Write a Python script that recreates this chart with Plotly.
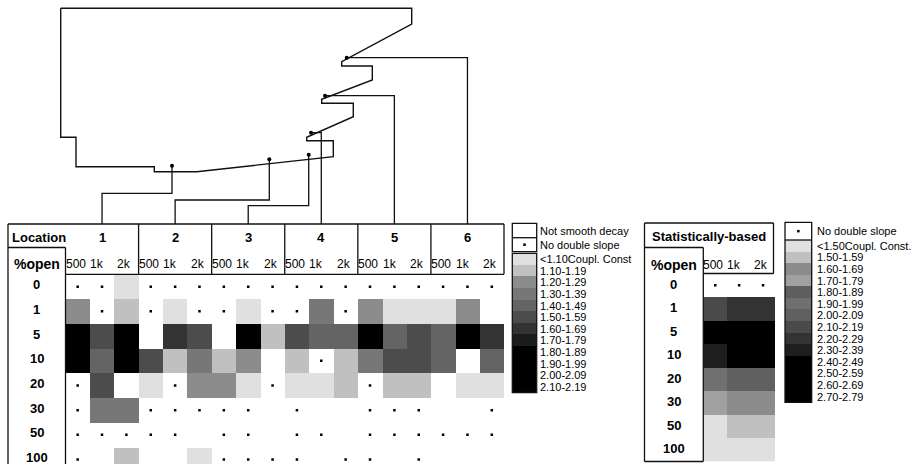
import plotly.graph_objects as go

W, H = 918, 464
FONT = "Liberation Sans, Arial, sans-serif"

# ---------------------------------------------------------------------------
# Data
# ---------------------------------------------------------------------------
NS = "not smooth decay"
ND = "no double slope"

open_pct = ["0", "1", "5", "10", "20", "30", "50", "100"]
locations = ["1", "2", "3", "4", "5", "6"]
records = ["500", "1k", "2k"]

main_classes = ["<1.10", "1.10-1.19", "1.20-1.29", "1.30-1.39", "1.40-1.49",
                "1.50-1.59", "1.60-1.69", "1.70-1.79", "1.80-1.89",
                "1.90-1.99", "2.00-2.09", "2.10-2.19"]
main_greys = ["#e0e0e0", "#c0c0c0", "#8c8c8c", "#777777", "#646464",
              "#4c4c4c", "#333333", "#1c1c1c", "#000000", "#000000",
              "#000000", "#000000"]

stat_classes = ["<1.50", "1.50-1.59", "1.60-1.69", "1.70-1.79", "1.80-1.89",
                "1.90-1.99", "2.00-2.09", "2.10-2.19", "2.20-2.29",
                "2.30-2.39", "2.40-2.49", "2.50-2.59", "2.60-2.69",
                "2.70-2.79"]
stat_greys = ["#e0e0e0", "#c0c0c0", "#8c8c8c", "#a0a0a0", "#5e5e5e",
              "#707070", "#606060", "#4a4a4a", "#333333", "#1e1e1e",
              "#000000", "#000000", "#000000", "#000000"]

# slope-ratio class per %open row, 6 locations x (500, 1k, 2k)
loc_open_0 = [ND, ND, "<1.10", ND, ND, ND, ND, ND, ND, ND, ND, ND, ND, ND, ND, ND, ND, ND]
loc_open_1 = ["1.20", ND, "1.10", ND, "<1.10", ND, ND, "<1.10", ND,
              ND, "1.30", ND, "1.20", "<1.10", "<1.10", "<1.10", "1.20", NS]
loc_open_5 = ["1.80", "1.50", "1.80", NS, "1.60", "1.50", NS, "1.80", "1.10",
              "1.50", "1.40", "1.40", "1.80", "1.40", "1.50", "1.40", "1.80", "1.60"]
loc_open_10 = ["1.80", "1.40", "1.80", "1.50", "1.10", "1.30", "1.10", "1.20", NS,
               "1.10", ND, "1.10", "1.30", "1.50", "1.50", "1.40", NS, "1.40"]
loc_open_20 = [ND, "1.50", NS, "<1.10", ND, "1.20", "1.20", "<1.10", ND,
               "<1.10", "<1.10", "1.10", ND, "1.10", "1.10", NS, "<1.10", "<1.10"]
loc_open_30 = [ND, "1.30", "1.30", ND, ND, ND, ND, ND, NS,
               ND, NS, NS, ND, ND, ND, NS, NS, ND]
loc_open_50 = [ND, ND, ND, ND, ND, NS, ND, ND, NS,
               ND, ND, NS, ND, ND, ND, ND, ND, ND]
loc_open_100 = [ND, NS, "1.10", NS, NS, "<1.10", ND, ND, ND,
                ND, NS, ND, ND, NS, ND, NS, NS, NS]
location_cells = [loc_open_0, loc_open_1, loc_open_5, loc_open_10,
                  loc_open_20, loc_open_30, loc_open_50, loc_open_100]

stat_open_0 = [ND, ND, ND]
stat_open_1 = ["2.10", "2.20", "2.20"]
stat_open_5 = ["2.40", "2.40", "2.40"]
stat_open_10 = ["2.30", "2.40", "2.40"]
stat_open_20 = ["1.90", "2.00", "2.00"]
stat_open_30 = ["1.70", "1.60", "1.60"]
stat_open_50 = ["<1.50", "1.50", "1.50"]
stat_open_100 = ["<1.50", "<1.50", "<1.50"]
stat_cells = [stat_open_0, stat_open_1, stat_open_5, stat_open_10,
              stat_open_20, stat_open_30, stat_open_50, stat_open_100]

# room plan outline and microphone positions (drawing units = pixels)
plan_x = [60.7, 411.7, 411.7, 341.7, 341.7, 372.3, 372.3, 321.7, 321.7, 353.3,
          353.3, 306.7, 306.7, 333.3, 333.3, 196.7, 154.3, 154.3, 76, 76,
          60.7, 60.7]
plan_y = [8.3, 8.3, 24, 61.7, 66, 66, 80, 99.3, 103.3, 103.3,
          116.7, 137.3, 140.7, 140.7, 156.7, 171.7, 171.7, 166.7, 166.7, 137.3,
          137.3, 8.3]
sensor_x = [172, 269.3, 308.7, 311, 325, 346.7]
sensor_y = [165.7, 159.3, 154.7, 132.7, 95.7, 57.7]
leader_elbow_y = [193.3, 200, 205.7, None, None, None]

# ---------------------------------------------------------------------------
# Layout geometry (pixels)
# ---------------------------------------------------------------------------
T_TOP, T_SUB, T_HEAD = 224, 247.5, 274.3
T_LEFT, T_COL0, T_RIGHT = 8, 65.5, 504
ROW_H = 24.7
S_LEFT, S_COL0, S_RIGHT, S_CELL_R = 644.5, 703.3, 773.5, 775
S_TOP, S_SUB, S_HEAD, S_BOT = 223, 247.5, 273.5, 461.5
ML_L, ML_R, ML_TOP, ML_MID, ML_BOX, ML_SCALE, BAND = 512.3, 536.7, 223.3, 237.7, 251.7, 253.3, 11.6
SL_L, SL_R, SL_TOP, SL_SCALE = 785, 811.7, 222.3, 240
# sub-header labels sit a little left of their cell centres
REC_SHIFT = [-0.08, -0.2, -0.08]


def xp(px):
    return px / W


def yp(py):
    return 1 - py / H


def discrete_scale(colors):
    n = len(colors)
    out = []
    for i, c in enumerate(colors):
        out.append([i / n, c])
        out.append([(i + 1) / n, c])
    return out


def class_index(classes, key):
    keys = [c.split("-")[0] for c in classes]
    return keys.index(key)


def encode(rows, classes):
    z, dx, dy = [], [], []
    for r, row in enumerate(rows):
        zr = []
        for c, v in enumerate(row):
            if v in (NS, ND):
                zr.append(None)
                if v == ND:
                    dx.append(c)
                    dy.append(r)
            else:
                zr.append(class_index(classes, v))
        z.append(zr)
    return z, dx, dy


fig = go.Figure()
shapes, annots = [], []
LINE = dict(color="#111111", width=1.3)


def seg(x0, y0, x1, y1, xref="x", yref="y", line=LINE):
    shapes.append(dict(type="line", xref=xref, yref=yref, x0=x0, y0=y0,
                       x1=x1, y1=y1, line=line, layer="above"))


def rect(x0, y0, x1, y1):
    shapes.append(dict(type="rect", xref="x", yref="y", x0=x0, y0=y0,
                       x1=x1, y1=y1, line=LINE, layer="above"))


def text(t, x, y, size, xref="x", yref="y", bold=False, xanchor="center", yshift=0):
    annots.append(dict(text=f"<b>{t}</b>" if bold else t, x=x, y=y, xref=xref,
                       yref=yref, showarrow=False, xanchor=xanchor,
                       yanchor="middle", yshift=yshift,
                       font=dict(family=FONT, size=size, color="black")))


DOT = dict(color="black", size=2.5, symbol="square")

# ---------------------------------------------------------------------------
# Room plan with leader lines to the table
# ---------------------------------------------------------------------------
fig.add_trace(go.Scatter(x=plan_x, y=plan_y, mode="lines", xaxis="x", yaxis="y",
                         line=dict(color="#111111", width=1.4), hoverinfo="skip"))
n_cols = len(locations) * len(records)
cell_w = (T_RIGHT - T_COL0) / n_cols
loc_center = [T_COL0 + (3 * g + 1.5) * cell_w for g in range(len(locations))]
for sx, sy, ey, lx in zip(sensor_x, sensor_y, leader_elbow_y, loc_center):
    if ey is None:
        xs, ys = [sx, lx, lx], [sy, sy, T_TOP]
    else:
        xs, ys = [sx, sx, lx, lx], [sy, ey, ey, T_TOP]
    fig.add_trace(go.Scatter(x=xs, y=ys, mode="lines", xaxis="x", yaxis="y",
                             line=dict(color="#111111", width=1.3),
                             hoverinfo="skip"))
fig.add_trace(go.Scatter(x=sensor_x, y=sensor_y, mode="markers", xaxis="x",
                         yaxis="y", marker=dict(color="black", size=4),
                         hoverinfo="skip"))

# ---------------------------------------------------------------------------
# Location table
# ---------------------------------------------------------------------------
z_main, dot_x, dot_y = encode(location_cells, main_classes)
fig.add_trace(go.Heatmap(z=z_main, xaxis="x2", yaxis="y2", showscale=False,
                         colorscale=discrete_scale(main_greys), zmin=-0.5,
                         zmax=len(main_classes) - 0.5, hoverinfo="skip"))
fig.add_trace(go.Scatter(x=dot_x, y=dot_y, mode="markers", xaxis="x2", yaxis="y2",
                         marker=DOT, hoverinfo="skip"))

seg(T_LEFT, T_TOP, T_RIGHT, T_TOP)
seg(T_LEFT, T_TOP, T_LEFT, H + 5)
seg(T_LEFT, T_SUB, T_COL0, T_SUB)
seg(T_COL0, T_SUB, T_COL0, H + 5)
seg(T_COL0, T_HEAD, T_RIGHT, T_HEAD)
seg(T_RIGHT, T_TOP, T_RIGHT, T_HEAD)
for g in range(1, len(locations)):
    seg(3 * g - 0.5, T_TOP, 3 * g - 0.5, T_HEAD, xref="x2")

text("Location", 10, 237, 13, bold=True, xanchor="left")
text("%open", (T_LEFT + T_COL0) / 2, 264, 14, bold=True)
for g, loc in enumerate(locations):
    text(loc, 3 * g + 1, 237, 13, xref="x2", bold=True)
    for k, rec in enumerate(records):
        text(rec, 3 * g + k + REC_SHIFT[k], 264, 12, xref="x2")
for r, lab in enumerate(open_pct):
    text(lab, (T_LEFT + T_COL0) / 2, r, 13, yref="y2", bold=True, yshift=2)

# ---------------------------------------------------------------------------
# Statistically-based table
# ---------------------------------------------------------------------------
z_stat, sdot_x, sdot_y = encode(stat_cells, stat_classes)
fig.add_trace(go.Heatmap(z=z_stat, xaxis="x3", yaxis="y3", showscale=False,
                         colorscale=discrete_scale(stat_greys), zmin=-0.5,
                         zmax=len(stat_classes) - 0.5, hoverinfo="skip"))
fig.add_trace(go.Scatter(x=sdot_x, y=sdot_y, mode="markers", xaxis="x3", yaxis="y3",
                         marker=DOT, hoverinfo="skip"))

seg(S_LEFT, S_TOP, S_RIGHT, S_TOP)
seg(S_LEFT, S_TOP, S_LEFT, S_BOT)
seg(S_LEFT, S_SUB, S_COL0, S_SUB)
seg(S_COL0, S_SUB, S_COL0, S_BOT)
seg(S_LEFT, S_BOT, S_COL0, S_BOT)
seg(S_COL0, S_HEAD, S_RIGHT, S_HEAD)
seg(S_RIGHT, S_TOP, S_RIGHT, S_HEAD)
text("Statistically-based", (S_LEFT + S_RIGHT) / 2, 236, 13, bold=True)
text("%open", (S_LEFT + S_COL0) / 2, 265, 14, bold=True)
for k, rec in enumerate(records):
    text(rec, k + REC_SHIFT[k], 265, 12, xref="x3")
for r, lab in enumerate(open_pct):
    text(lab, (S_LEFT + S_COL0) / 2, r, 13, yref="y3", bold=True, yshift=1)

# ---------------------------------------------------------------------------
# Legends
# ---------------------------------------------------------------------------
fig.add_trace(go.Heatmap(z=[[i] for i in range(len(main_classes))], xaxis="x4",
                         yaxis="y4", showscale=False,
                         colorscale=discrete_scale(main_greys), zmin=-0.5,
                         zmax=len(main_classes) - 0.5, hoverinfo="skip"))
fig.add_trace(go.Heatmap(z=[[i] for i in range(len(stat_classes))], xaxis="x5",
                         yaxis="y5", showscale=False,
                         colorscale=discrete_scale(stat_greys), zmin=-0.5,
                         zmax=len(stat_classes) - 0.5, hoverinfo="skip"))
fig.add_trace(go.Scatter(x=[(ML_L + ML_R) / 2, (SL_L + SL_R) / 2],
                         y=[(ML_MID + ML_BOX) / 2, (SL_TOP + SL_SCALE) / 2],
                         mode="markers", xaxis="x", yaxis="y", marker=DOT,
                         hoverinfo="skip"))

ml_bot = ML_SCALE + BAND * len(main_classes)
rect(ML_L, ML_TOP, ML_R, ML_BOX)
seg(ML_L, ML_MID, ML_R, ML_MID)
rect(ML_L, ML_SCALE, ML_R, ml_bot)
text("Not smooth decay", ML_R + 1.5, (ML_TOP + ML_MID) / 2, 11, xanchor="left")
text("No double slope", ML_R + 1.5, (ML_MID + ML_BOX) / 2, 11, xanchor="left")
for i, lab in enumerate(main_classes):
    t = lab + "Coupl. Const" if i == 0 else lab
    text(t, ML_R + 1.5, i, 11, yref="y4", xanchor="left")

sl_bot = SL_SCALE + BAND * len(stat_classes)
rect(SL_L, SL_TOP, SL_R, sl_bot)
seg(SL_L, SL_SCALE, SL_R, SL_SCALE)
text("No double slope", SL_R + 3.5, (SL_TOP + SL_SCALE) / 2, 11, xanchor="left")
for i, lab in enumerate(stat_classes):
    t = lab + "Coupl. Const." if i == 0 else lab
    text(t, SL_R + 3.5, i, 11, yref="y5", xanchor="left")

# ---------------------------------------------------------------------------
# Axes
# ---------------------------------------------------------------------------
hidden = dict(visible=False, showgrid=False, zeroline=False, fixedrange=True)
visible_rows = (H - T_HEAD) / ROW_H
layout_axes = dict(
    xaxis=dict(domain=[0, 1], range=[0, W], anchor="y", **hidden),
    yaxis=dict(domain=[0, 1], range=[H, 0], anchor="x", **hidden),
    xaxis2=dict(domain=[xp(T_COL0), xp(T_RIGHT)], range=[-0.5, n_cols - 0.5],
                anchor="y2", **hidden),
    yaxis2=dict(domain=[0, yp(T_HEAD)], range=[visible_rows - 0.5, -0.5],
                anchor="x2", **hidden),
    xaxis3=dict(domain=[xp(S_COL0), xp(S_CELL_R)], range=[-0.5, 2.5],
                anchor="y3", **hidden),
    yaxis3=dict(domain=[yp(S_BOT), yp(S_HEAD)], range=[7.5, -0.5],
                anchor="x3", **hidden),
    xaxis4=dict(domain=[xp(ML_L), xp(ML_R)], range=[-0.5, 0.5], anchor="y4", **hidden),
    yaxis4=dict(domain=[yp(ml_bot), yp(ML_SCALE)],
                range=[len(main_classes) - 0.5, -0.5], anchor="x4", **hidden),
    xaxis5=dict(domain=[xp(SL_L), xp(SL_R)], range=[-0.5, 0.5], anchor="y5", **hidden),
    yaxis5=dict(domain=[yp(sl_bot), yp(SL_SCALE)],
                range=[len(stat_classes) - 0.5, -0.5], anchor="x5", **hidden),
)

fig.update_layout(
    width=W, height=H, margin=dict(l=0, r=0, t=0, b=0, pad=0),
    paper_bgcolor="white", plot_bgcolor="rgba(0,0,0,0)", showlegend=False,
    shapes=shapes, annotations=annots, **layout_axes,
)

fig.write_html("out.html", config={"displayModeBar": False})
